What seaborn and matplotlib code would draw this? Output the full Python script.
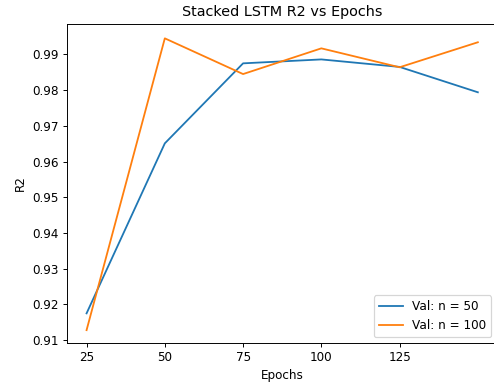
import matplotlib
matplotlib.use("Agg")
import matplotlib.pyplot as plt
import seaborn as sns
import pandas as pd

epochs = [25, 50, 75, 100, 125, 150]
r2_n50 = [0.9175, 0.9651, 0.9875, 0.9886, 0.9865, 0.9794]
r2_n100 = [0.9128, 0.9945, 0.9845, 0.9917, 0.9864, 0.9934]
series_labels = ["Val: n = 50", "Val: n = 100"]
xtick_values = [25, 50, 75, 100, 125]

df = pd.DataFrame({
    "Epochs": epochs * 2,
    "R2": r2_n50 + r2_n100,
    "series": [series_labels[0]] * len(epochs) + [series_labels[1]] * len(epochs),
})

DPI = 86.6
fig = plt.figure(figsize=(494 / DPI, 385 / DPI), dpi=DPI)
ax = fig.add_axes([67 / 494, 42 / 385, 430.4 / 494, 319.3 / 385])
sns.lineplot(data=df, x="Epochs", y="R2", hue="series", ax=ax,
             palette=["#1f77b4", "#ff7f0e"], linewidth=1.5)
ax.set_xticks(xtick_values)
ax.set_ylim(0.9092, 0.9986)
ax.set_xlabel("Epochs")
ax.set_ylabel("R2")
ax.set_title("Stacked LSTM R2 vs Epochs")
ax.legend(loc="lower right", title=None)
fig.savefig("out.png", dpi=DPI)
